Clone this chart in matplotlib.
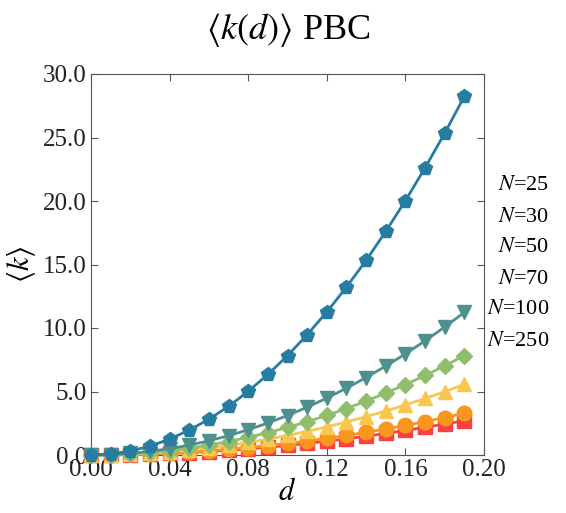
import numpy as np
import matplotlib
matplotlib.use("Agg")
import matplotlib.pyplot as plt

plt.rcParams['font.family'] = ['Liberation Serif', 'DejaVu Serif']
plt.rcParams['mathtext.fontset'] = 'stix'

# link distance d
d = [0.00, 0.01, 0.02, 0.03, 0.04, 0.05, 0.06, 0.07, 0.08, 0.09,
     0.10, 0.11, 0.12, 0.13, 0.14, 0.15, 0.16, 0.17, 0.18, 0.19]

# mean degree <k> for each N
k_25 = [0.00, 0.01, 0.03, 0.07, 0.12, 0.19, 0.27, 0.37, 0.48, 0.61,
        0.75, 0.91, 1.09, 1.27, 1.48, 1.70, 1.93, 2.18, 2.44, 2.70]
k_30 = [0.00, 0.01, 0.04, 0.08, 0.15, 0.23, 0.33, 0.45, 0.58, 0.74,
        0.91, 1.10, 1.31, 1.54, 1.79, 2.05, 2.33, 2.63, 2.95, 3.29]
k_50 = [0.00, 0.02, 0.06, 0.14, 0.25, 0.38, 0.55, 0.75, 0.99, 1.25,
        1.54, 1.86, 2.22, 2.60, 3.02, 3.46, 3.94, 4.45, 4.99, 5.56]
k_70 = [0.00, 0.02, 0.09, 0.20, 0.35, 0.54, 0.78, 1.06, 1.39, 1.76,
        2.17, 2.62, 3.12, 3.66, 4.25, 4.88, 5.55, 6.26, 7.02, 7.83]
k_100 = [0.00, 0.03, 0.12, 0.28, 0.50, 0.78, 1.12, 1.52, 1.99, 2.52,
         3.11, 3.76, 4.48, 5.26, 6.10, 7.00, 7.96, 8.99, 10.08, 11.23]
k_250 = [0.00, 0.08, 0.31, 0.70, 1.25, 1.96, 2.82, 3.83, 5.01, 6.34,
         7.82, 9.47, 11.26, 13.22, 15.33, 17.60, 20.03, 22.61, 25.34, 28.24]

labels = ['N=25', 'N=30', 'N=50', 'N=70', 'N=100', 'N=250']
series = [k_25, k_30, k_50, k_70, k_100, k_250]
colors = ['#f94144', '#f8961e', '#f9c74f', '#90be6d', '#4d908e', '#277da1']
markers = ['s', 'o', '^', 'D', 'v', 'p']
msizes = [9.5, 10.5, 10.5, 8, 10.5, 10.5]

fig = plt.figure(figsize=(5.66, 5.13), dpi=100)
ax = fig.add_axes([91 / 566, 1 - 455 / 513, 393 / 566, 381 / 513])

for i, (k, c, m, ms) in enumerate(zip(series, colors, markers, msizes)):
    ax.plot(d, k, color=c, marker=m, markersize=ms, linewidth=2,
            clip_on=False, zorder=3 + i)

ax.set_xlim(0, 0.20)
ax.set_ylim(0, 30)
ax.set_xticks(np.arange(0, 0.201, 0.04))
ax.set_yticks(np.arange(0, 30.1, 5))
ax.xaxis.set_major_formatter(matplotlib.ticker.FormatStrFormatter('%.2f'))
ax.yaxis.set_major_formatter(matplotlib.ticker.FormatStrFormatter('%.1f'))
ax.tick_params(direction='in', top=True, right=True, length=5,
               width=0.8, color='#555555', labelsize=18, pad=3,
               labelcolor='#222222')
for sp in ax.spines.values():
    sp.set_color('#555555')
    sp.set_linewidth(0.8)

ax.set_xlabel('$d$', fontsize=22, labelpad=-2)
ax.set_ylabel(r'$\langle k\rangle$', fontsize=22)
ax.yaxis.set_label_coords(-0.135, 0.5)
fig.text(0.51, 1 - 30 / 513, r'$\langle k(d)\rangle$ PBC', fontsize=26,
         ha='center', va='center')

# right-hand labels
for j, lab in enumerate(labels):
    fig.text(549 / 566, 1 - (186 + 31 * j) / 513, '$N$=' + lab[2:],
             fontsize=16, ha='right', va='center')

fig.savefig('out.png', dpi=100)
